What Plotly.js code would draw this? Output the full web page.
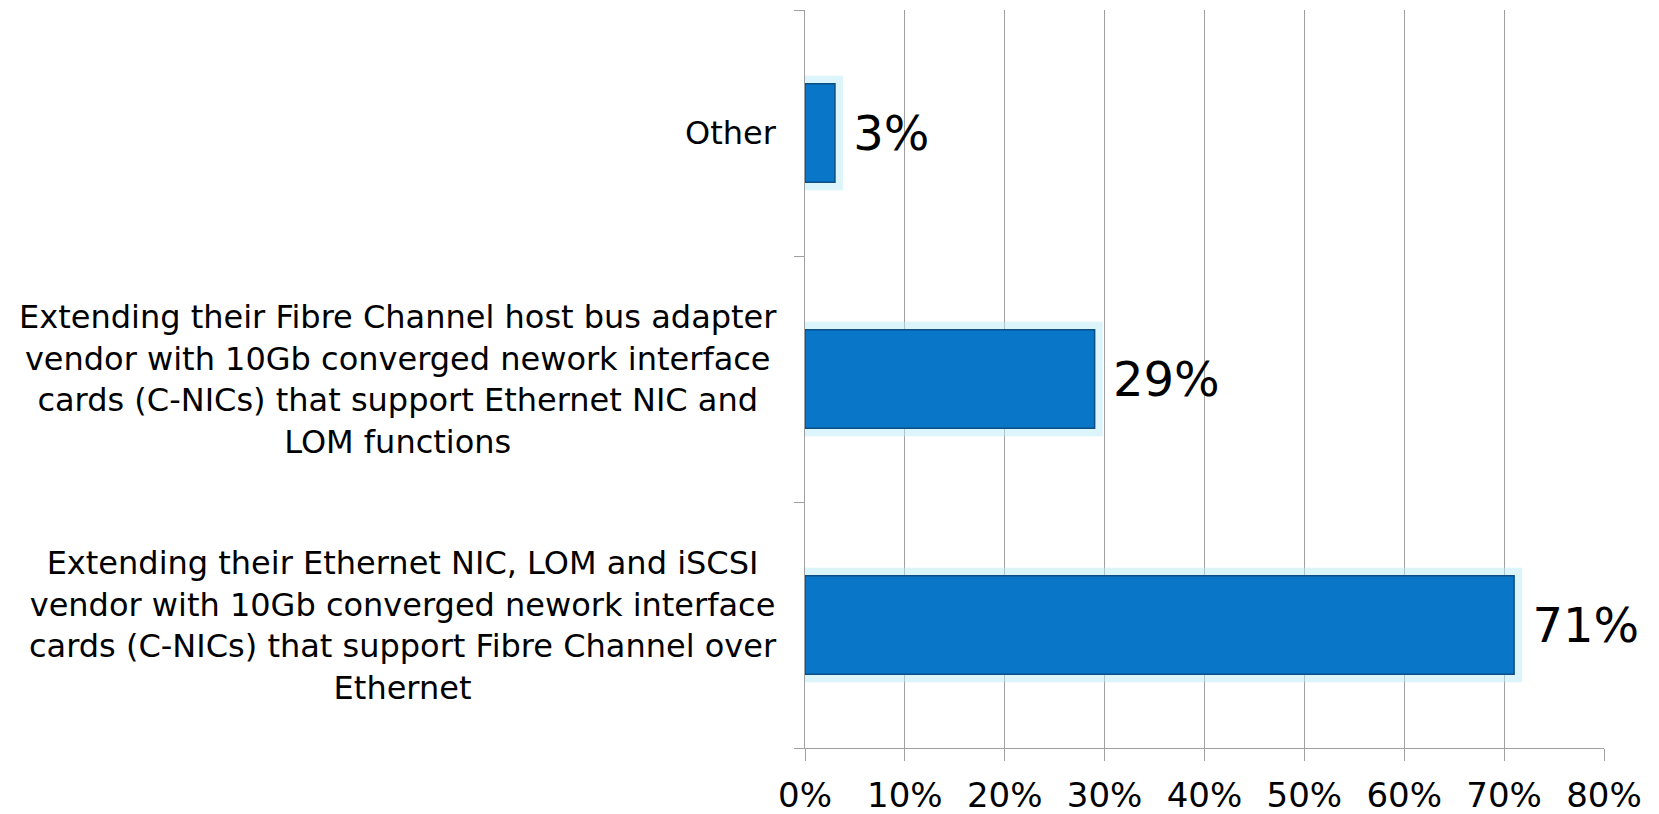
<!DOCTYPE html>
<html>
<head>
<meta charset="utf-8">
<script src="https://cdn.plot.ly/plotly-3.0.1.min.js"></script>
<style>
  html, body { margin: 0; padding: 0; background: #ffffff; }
  #chart { width: 1659px; height: 814px; }
</style>
</head>
<body>
<div id="chart"></div>
<script>
// Data (bottom-to-top order as drawn)
const categories = [
  "Extending their Ethernet NIC, LOM and iSCSI<br>vendor with 10Gb converged nework interface<br>cards (C-NICs) that support Fibre Channel over<br>Ethernet",
  "Extending their Fibre Channel host bus adapter<br>vendor with 10Gb converged nework interface<br>cards (C-NICs) that support Ethernet NIC and<br>LOM functions",
  "Other"
];
const values = [0.71, 0.29, 0.03];
const xTickValues = [0, 0.1, 0.2, 0.3, 0.4, 0.5, 0.6, 0.7, 0.8];

const FONT = "DejaVu Sans, Verdana, sans-serif";

const glow = {
  type: "bar",
  orientation: "h",
  y: categories,
  x: values,
  width: 0.4,
  marker: {
    color: "rgba(185,235,248,0.5)",
    line: { color: "rgba(185,235,248,0.5)", width: 16 }
  },
  hoverinfo: "skip",
  showlegend: false
};

const main = {
  type: "bar",
  orientation: "h",
  y: categories,
  x: values,
  width: 0.4,
  marker: {
    color: "#0a76c8",
    line: { color: "#0d4f84", width: 1.5 }
  },
  text: values.map(v => "\u00a0" + Math.round(v * 100) + "%"),
  textposition: "outside",
  textfont: { family: FONT, size: 48, color: "#000000" },
  constraintext: "none",
  cliponaxis: false,
  showlegend: false
};

const annotations = categories.map(c => ({
  xref: "paper",
  yref: "y",
  x: 0,
  y: c,
  xanchor: "right",
  yanchor: "middle",
  xshift: -26,
  align: "center",
  showarrow: false,
  text: c,
  font: { family: FONT, size: 32, color: "#000000" }
}));

const layout = {
  width: 1659,
  height: 814,
  margin: { l: 805, r: 55, t: 10, b: 66, pad: 0 },
  paper_bgcolor: "#ffffff",
  plot_bgcolor: "#ffffff",
  barmode: "overlay",
  showlegend: false,
  font: { family: FONT, color: "#000000" },
  xaxis: {
    range: [0, 0.8],
    tickvals: xTickValues,
    tickformat: ".0%",
    tickfont: { family: FONT, size: 34, color: "#000000" },
    ticklabelstandoff: 5,
    showgrid: true,
    gridcolor: "#a0a0a0",
    gridwidth: 1,
    zeroline: false,
    showline: true,
    linecolor: "#a0a0a0",
    linewidth: 1,
    ticks: "outside",
    ticklen: 12,
    tickcolor: "#a0a0a0",
    fixedrange: true
  },
  yaxis: {
    type: "category",
    categoryorder: "array",
    categoryarray: categories,
    range: [-0.5, 2.5],
    showticklabels: false,
    showgrid: false,
    zeroline: false,
    showline: true,
    linecolor: "#a0a0a0",
    linewidth: 1,
    ticks: "outside",
    tickson: "boundaries",
    ticklen: 10,
    tickcolor: "#a0a0a0",
    fixedrange: true
  },
  annotations: annotations
};

Plotly.newPlot("chart", [glow, main], layout, { displayModeBar: false, staticPlot: true });
</script>
</body>
</html>
